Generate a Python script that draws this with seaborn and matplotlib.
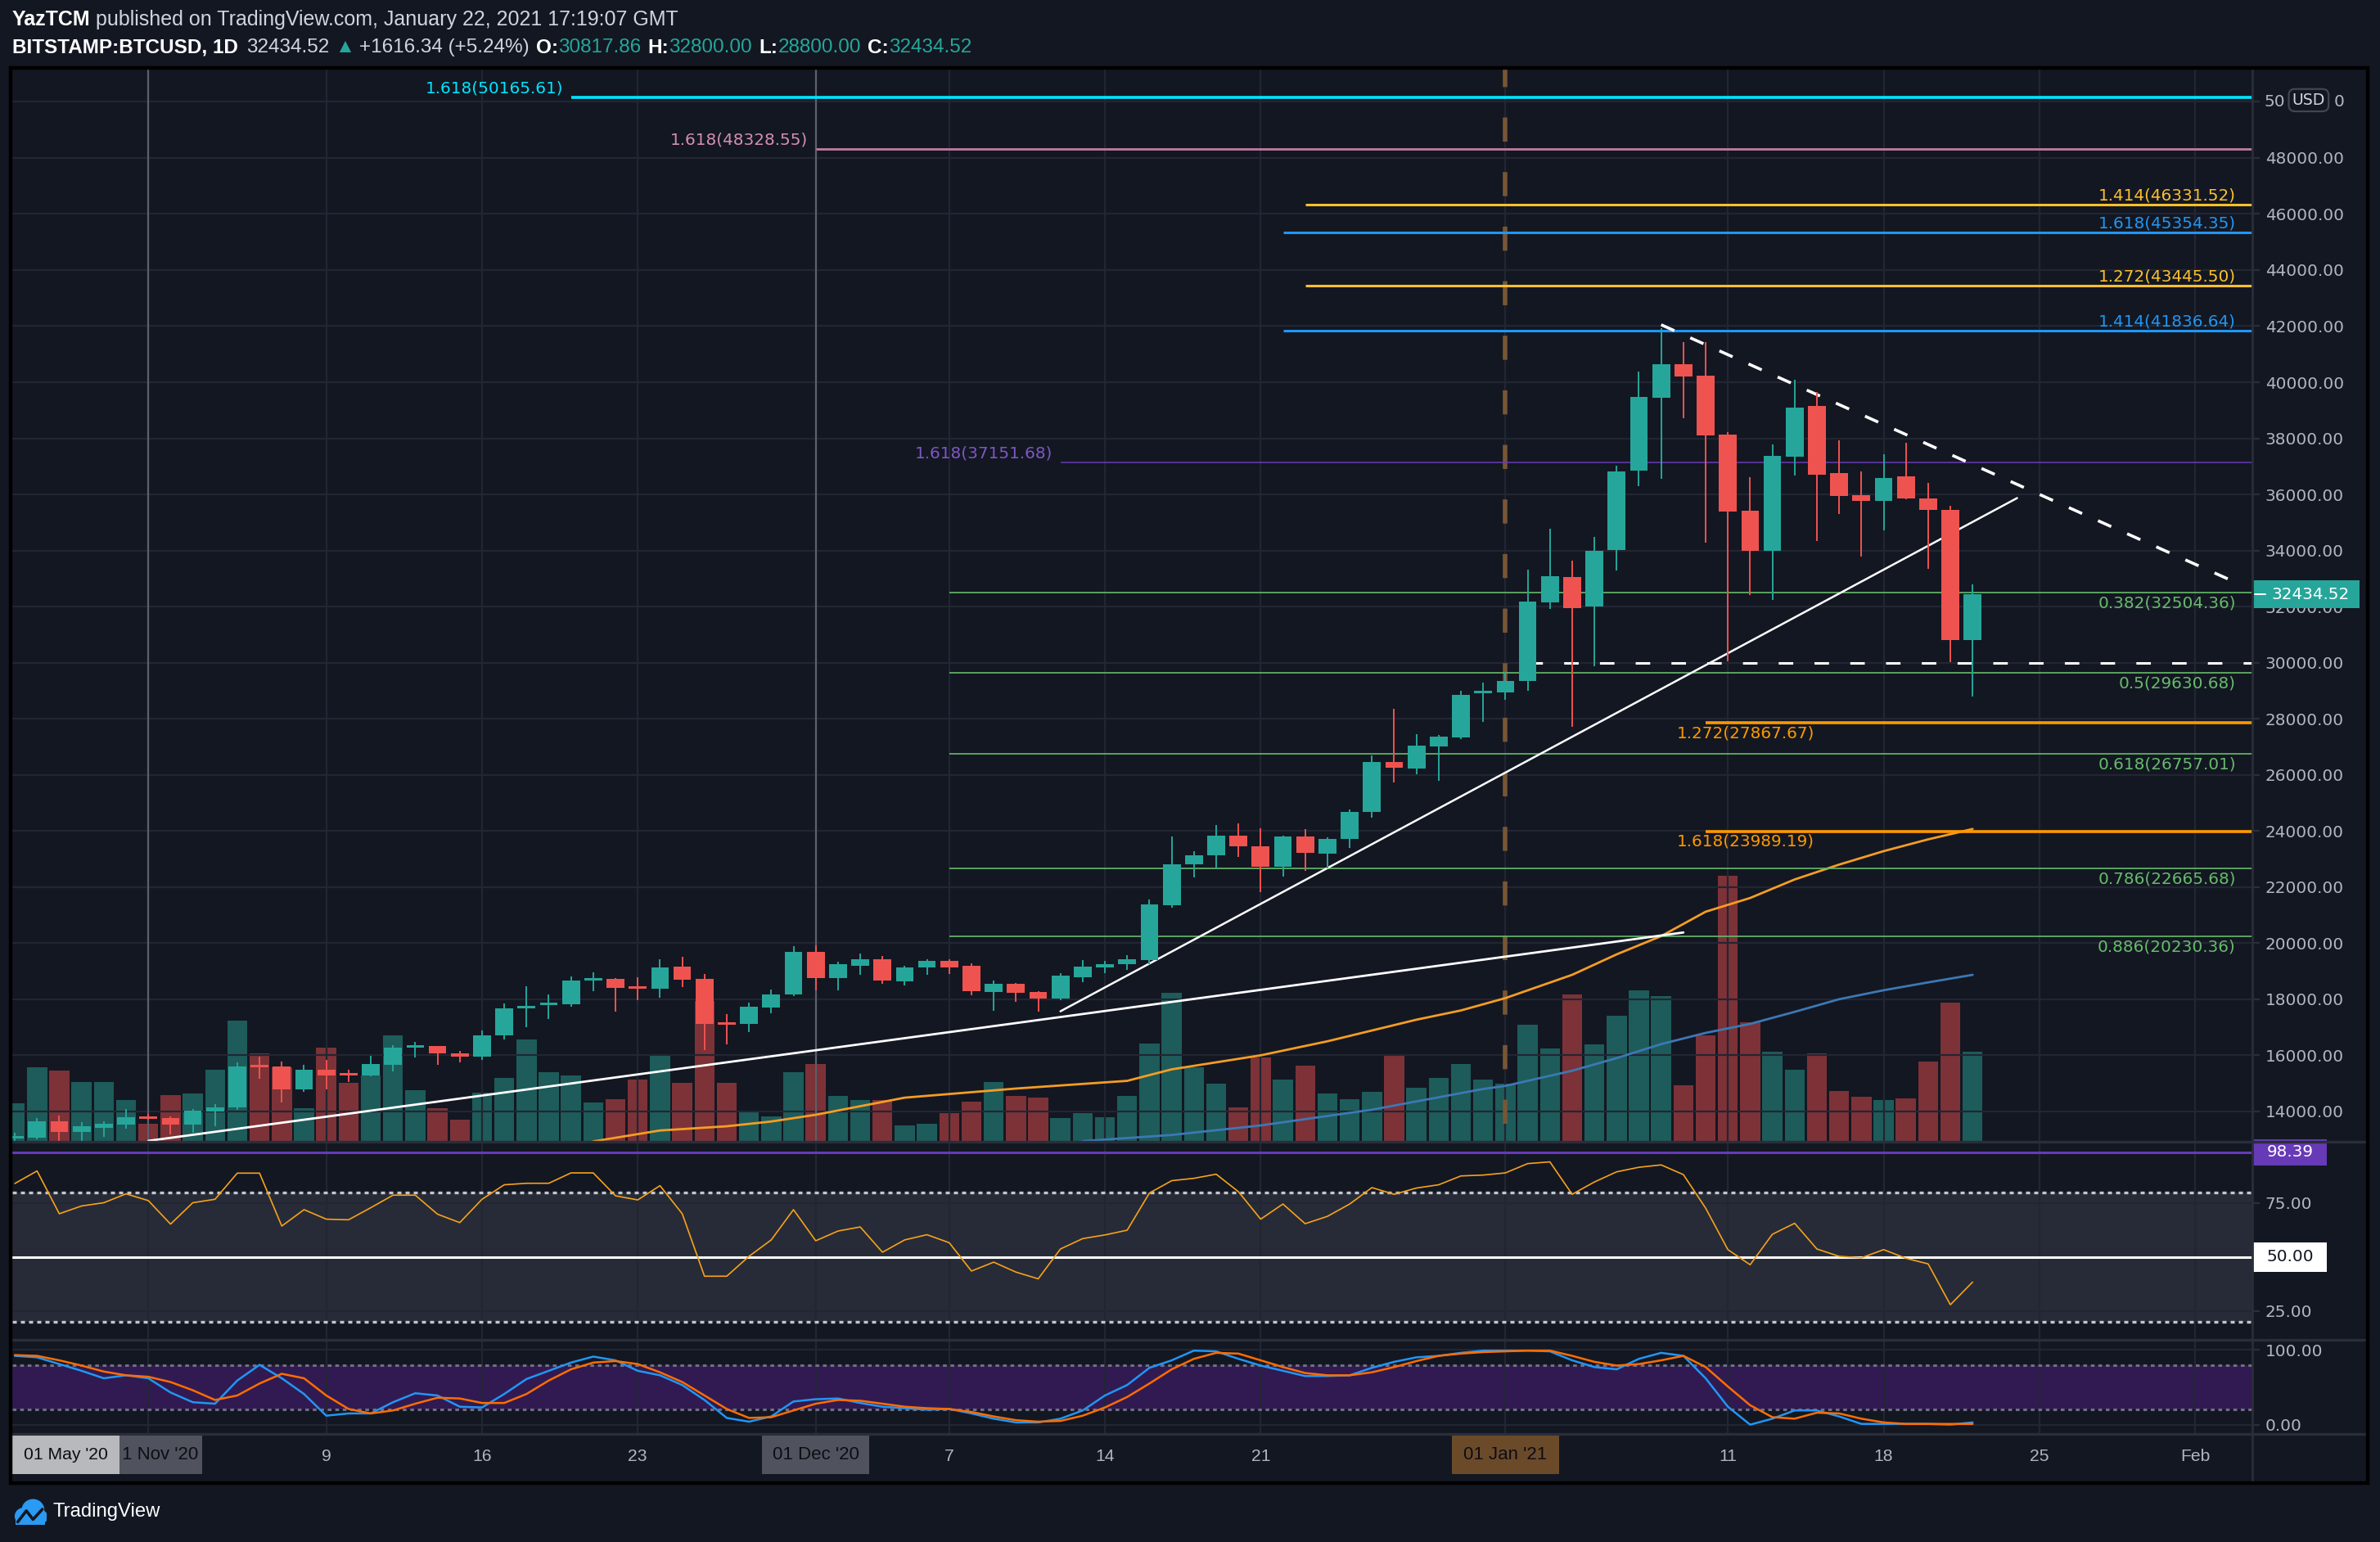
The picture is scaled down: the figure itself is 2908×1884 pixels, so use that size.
import numpy as np
import pandas as pd
import matplotlib
matplotlib.use("Agg")
import matplotlib.pyplot as plt
import matplotlib.transforms as mtransforms
from matplotlib.patches import Rectangle, Circle
from matplotlib.lines import Line2D
import seaborn as sns

# ---------------- data ----------------
dates = pd.date_range("2020-10-26", "2021-01-22", freq="D")

opens = [13030, 13070, 13640, 13260, 13420, 13540,
         13780, 13750, 13540, 14010, 14150, 15600, 15590, 14790, 15480, 15340,
         15280, 15670, 16260, 16330, 16060, 15940, 16700, 17670, 17780, 17810,
         18660, 18730, 18430, 18370, 19170, 18730, 17180, 17120, 17690, 18170,
         19690, 18760, 19190, 19420, 18640, 19130, 19380, 19180, 18270, 18540,
         18250, 18020, 18780, 19140, 19260, 19410, 21340, 22810, 23120, 23830,
         23450, 22710, 23800, 23180, 23710, 24680, 26460, 26220, 27000, 27340, 28900,
         28950, 29350, 32150, 33040, 32010, 34020, 36840, 39460, 40650, 40220,
         38130, 35410, 33980, 37340, 39140, 36760, 35960, 35780, 36630, 35860,
         35460, 30817.86]
highs = [13240, 13760, 13850, 13630, 13660, 14080,
         13900, 13830, 14080, 14260, 15760, 15950, 15780, 15660, 15840, 15480,
         15970, 16360, 16470, 16340, 16150, 16880, 17860, 18470, 18180, 18810,
         18960, 18760, 18780, 19440, 19500, 18910, 17470, 17880, 18340, 19880,
         19920, 19350, 19630, 19550, 19190, 19430, 19430, 19290, 18660, 18590,
         18300, 18930, 19410, 19360, 19570, 21560, 23800, 23290, 24220, 24280,
         24100, 23830, 24080, 23770, 24770, 26700, 28370, 27460, 27420, 29000, 29300,
         29660, 33320, 34780, 33630, 34470, 37030, 40390, 41940, 41420, 41440,
         38210, 36610, 37780, 40090, 39660, 37920, 36820, 37430, 37840, 36420,
         35590, 32800.00]
lows = [12800, 13000, 12900, 12950, 13100, 13390,
        13700, 13170, 13240, 13460, 14050, 15170, 14310, 14700, 14780, 15050,
        15250, 15440, 15930, 15660, 15760, 15850, 16560, 17000, 17300, 17730,
        18290, 17560, 17980, 18040, 18440, 16200, 16400, 16830, 17510, 18100,
        18320, 18320, 18870, 18540, 18480, 18870, 18900, 18140, 17600, 17910,
        17550, 17980, 18600, 18940, 19050, 19260, 21250, 22340, 22670, 23070,
        21830, 22380, 22590, 22670, 23380, 24460, 25730, 26030, 25800, 27280, 27890,
        28670, 29000, 31930, 27700, 29870, 33290, 36280, 36560, 38730, 34280,
        30050, 32410, 32240, 36680, 34330, 35300, 33790, 34730, 35830, 33350,
        30030, 28800.00]
closes = [13070, 13640, 13260, 13460, 13550, 13790,
          13740, 13540, 14020, 14140, 15600, 15580, 14790, 15480, 15290, 15290,
          15680, 16280, 16330, 16060, 15940, 16710, 17680, 17770, 17820, 18660,
          18720, 18410, 18370, 19140, 18710, 17120, 17100, 17730, 18180, 19700,
          18760, 19240, 19420, 18660, 19140, 19380, 19140, 18300, 18560, 18230,
          18020, 18830, 19170, 19260, 19420, 21370, 22810, 23130, 23830, 23440,
          22710, 23800, 23220, 23710, 24680, 26460, 26240, 27030, 27360, 28850, 28960,
          29350, 32170, 33080, 31940, 34000, 36820, 39480, 40650, 40200, 38100,
          35390, 33980, 37370, 39100, 36710, 35950, 35780, 36590, 35860, 35440,
          30818.18, 32434.52]
volumes = [142, 272, 260, 218, 218, 154,
           65, 172, 178, 265, 443, 325, 272, 124, 346, 217,
           243, 391, 190, 124, 82, 181, 235, 376, 256, 244,
           145, 157, 229, 322, 217, 517, 217, 112, 94, 256,
           286, 167, 152, 154, 61, 65, 106, 148, 218, 167,
           163, 88, 106, 91, 167, 361, 545, 274, 212, 127,
           308, 227, 280, 176, 157, 184, 320, 197, 233, 284, 227,
           212, 428, 341, 539, 356, 461, 554, 533, 206, 389,
           974, 437, 329, 263, 323, 185, 164, 152, 158, 293,
           509, 329]

rsi = [84.0, 89.8, 70.0, 73.6, 75.1, 79.2,
       76.1, 65.2, 75.1, 76.7, 88.8, 88.8, 64.3, 71.9, 67.5, 67.2,
       72.8, 78.6, 78.6, 69.8, 65.9, 76.7, 83.4, 84.1, 84.1, 88.9,
       88.9, 78.3, 76.4, 83.0, 70.0, 41.1, 41.1, 50.3, 57.9, 71.9,
       57.5, 62.0, 63.9, 52.2, 57.9, 60.3, 56.6, 43.5, 47.6, 43.0,
       39.9, 53.7, 58.5, 60.2, 62.4, 79.6, 85.3, 86.4, 88.3, 80.2,
       67.5, 74.5, 65.4, 68.8, 74.5, 82.1, 79.0, 81.9, 83.4, 87.5, 87.9,
       88.9, 93.2, 94.0, 79.0, 84.7, 89.4, 91.5, 92.6, 88.1, 72.6,
       53.4, 46.4, 60.5, 65.6, 53.7, 50.3, 49.6, 53.4, 49.4, 46.8,
       27.9, 38.4]
stoch_k = [92, 90, 81, 72, 62, 66,
           62, 43, 30, 28, 59, 80, 62, 41, 12, 15,
           15, 30, 42, 39, 24, 23, 41, 61, 72, 83,
           91, 86, 72, 66, 53, 33, 9, 4, 11, 31,
           34, 35, 29, 24, 22, 20, 21, 15, 8, 3,
           3, 8, 19, 39, 53, 76, 86, 99, 98, 88,
           79, 72, 65, 65, 66, 76, 84, 90, 92, 96, 99,
           99, 99, 98, 86, 77, 74, 88, 96, 92, 62,
           24, 0, 8, 19, 19, 11, 1, 1, 1, 1,
           0, 3]
stoch_d = [93, 92, 86, 79, 71, 66,
           64, 57, 46, 33, 39, 55, 68, 62, 39, 21,
           15, 19, 28, 36, 35, 29, 29, 41, 59, 74,
           83, 85, 81, 70, 57, 39, 21, 9, 10, 19,
           28, 33, 32, 28, 24, 22, 21, 17, 11, 6,
           4, 5, 12, 23, 37, 55, 74, 88, 96, 95,
           86, 77, 69, 66, 66, 70, 77, 85, 92, 95, 97,
           98, 99, 99, 92, 84, 79, 81, 86, 92, 77,
           51, 26, 10, 8, 16, 15, 8, 3, 1, 1,
           1, 1]

ma_orange_dates = ["2020-11-21", "2020-11-24", "2020-11-27", "2020-11-29", "2020-12-01",
                   "2020-12-05", "2020-12-10", "2020-12-15", "2020-12-17", "2020-12-21",
                   "2020-12-24", "2020-12-28", "2020-12-30", "2021-01-01", "2021-01-04",
                   "2021-01-06", "2021-01-08", "2021-01-10", "2021-01-12", "2021-01-14",
                   "2021-01-16", "2021-01-18", "2021-01-20", "2021-01-22"]
ma_orange = [12930, 13320, 13470, 13640, 13880, 14490, 14815, 15090, 15500, 16000,
             16500, 17270, 17600, 18040, 18870, 19600, 20250, 21120, 21610, 22270,
             22800, 23280, 23700, 24070]
ma_blue_dates = ["2020-12-13", "2020-12-17", "2020-12-21", "2020-12-26", "2020-12-31",
                 "2021-01-01", "2021-01-04", "2021-01-06", "2021-01-08", "2021-01-10",
                 "2021-01-12", "2021-01-14", "2021-01-16", "2021-01-18", "2021-01-20",
                 "2021-01-22"]
ma_blue = [12940, 13160, 13500, 14060, 14800, 14910, 15450, 15900, 16400, 16800,
           17120, 17550, 18000, 18320, 18600, 18870]

fib_ratios = ["1.618", "1.618", "1.414", "1.618", "1.272", "1.414", "1.618",
              "0.382", "0.5", "1.272", "0.618", "1.618", "0.786", "0.886"]
fib_levels = [50165.61, 48328.55, 46331.52, 45354.35, 43445.50, 41836.64, 37151.68,
              32504.36, 29630.68, 27867.67, 26757.01, 23989.19, 22665.68, 20230.36]
fib_starts = ["2020-11-20", "2020-12-01", "2020-12-23", "2020-12-22", "2020-12-23",
              "2020-12-22", "2020-12-12", "2020-12-07", "2020-12-07", "2021-01-10",
              "2020-12-07", "2021-01-10", "2020-12-07", "2020-12-07"]

# trend lines (date, price)
support_long = (["2020-11-01", "2021-01-09"], [12950, 20380])
support_steep = (["2020-12-12", "2021-01-24"], [17570, 35870])
resistance = (["2021-01-08", "2021-02-03"], [42050, 32800])
level_30k = (["2021-01-02", "2021-02-05"], [30000, 30000])

xtick_dates = ["2020-11-01", "2020-11-09", "2020-11-16", "2020-11-23", "2020-12-01",
               "2020-12-07", "2020-12-14", "2020-12-21", "2021-01-01", "2021-01-11",
               "2021-01-18", "2021-01-25", "2021-02-01"]
# month / year ticks are covered by the date tags below
xtick_labels = ["", "9", "16", "23", "", "7", "14", "21", "", "11", "18", "25", "Feb"]

price_ticks = list(range(14000, 50001, 2000))

# ---------------- styling ----------------
BG = "#131722"
GRID = "#222633"
SEP = "#2a2e39"
UP, DOWN = "#26a69a", "#ef5350"
VOL_UP, VOL_DOWN = "#1d5c5a", "#7d3237"
AXTXT = "#b2b5be"

fib_colors = ["#00e5ff", "#c27ba0", "#fbc02d", "#2196f3", "#fbc02d", "#2196f3", "#673ab7",
              "#66bb6a", "#66bb6a", "#ff9800", "#66bb6a", "#ff9800", "#66bb6a", "#66bb6a"]
fib_text_colors = ["#00e5ff", "#d38fae", "#fbc02d", "#2196f3", "#fbc02d", "#2196f3", "#7e57c2",
                   "#66bb6a", "#66bb6a", "#ff9800", "#66bb6a", "#ff9800", "#66bb6a", "#66bb6a"]
fib_widths = [1.3, 1.0, 1.1, 1.1, 1.1, 1.1, 0.55, 0.6, 0.6, 1.3, 0.6, 1.3, 0.6, 0.6]
fib_place = ["left", "left", "above", "above", "above", "above", "left",
             "below", "below", "start", "below", "start", "below", "below"]

sns.set_style("dark", {"axes.facecolor": BG, "figure.facecolor": BG})
plt.rcParams["font.family"] = ["DejaVu Sans"]

BASE = pd.Timestamp("2020-11-01")


def dnum(s):
    return np.asarray((pd.to_datetime(s) - BASE) / pd.Timedelta(days=1), dtype=float)


W, H = 1568.0, 1016.0


def rect(x0, y0, x1, y1):
    return [x0 / W, 1 - y1 / H, (x1 - x0) / W, (y1 - y0) / H]


X0, X1, XR = 8.0, 1483.7, 1560.0
XLIM = (-6.12, 94.56)
PANEL_W = X1 - X0

fig = plt.figure(figsize=(14.54, 9.42), dpi=200, facecolor=BG)

ax_vol = fig.add_axes(rect(X0, 46.0, X1, 752.3))
ax = fig.add_axes(rect(X0, 46.0, X1, 752.3), sharex=ax_vol)
ax_rsi = fig.add_axes(rect(X0, 752.3, X1, 882.6), sharex=ax_vol)
ax_st = fig.add_axes(rect(X0, 882.6, X1, 944.8), sharex=ax_vol)

for a in (ax_vol, ax, ax_rsi, ax_st):
    for sp in a.spines.values():
        sp.set_visible(False)
ax_vol.set_facecolor(BG)
ax.set_facecolor("none")
ax_rsi.set_facecolor(BG)
ax_st.set_facecolor(BG)

x = dnum(dates)
o, h, l, c = (np.asarray(v, dtype=float) for v in (opens, highs, lows, closes))
up = c >= o

# volume
ax_vol.bar(x, volumes, width=0.9, color=np.where(up, VOL_UP, VOL_DOWN), linewidth=0)
ax_vol.set_ylim(0, 3928)
ax_vol.set_yticks([])
ax_vol.tick_params(bottom=False, labelbottom=False, left=False, labelleft=False)

# price grid + axis (the 50000 label is split around the USD badge further down)
ax.set_xticks(dnum(xtick_dates))
ax.set_yticks(price_ticks)
ax.set_yticklabels([f"{v:.2f}" if v < 50000 else "" for v in price_ticks])
ax.yaxis.tick_right()
ax.tick_params(axis="x", bottom=False, labelbottom=False)
ax.tick_params(axis="y", length=3.2, width=0.8, color=SEP, pad=2.6, labelsize=7.2, labelcolor=AXTXT)
ax.grid(True, color=GRID, lw=0.8)
ax.set_axisbelow(True)

# vertical markers
ax.axvline(dnum("2020-11-01"), color="#5d606b", lw=0.8, zorder=1)
ax.axvline(dnum("2020-12-01"), color="#5d606b", lw=0.8, zorder=1)
ax.vlines(dnum("2021-01-01"), 13567, 52000, color="#785634", lw=2.0, linestyles=(0, (5.3, 6.7)), zorder=1)

# moving averages
sns.lineplot(x=dnum(ma_orange_dates), y=ma_orange, ax=ax, color="#f59d24", lw=1.0, zorder=2)
sns.lineplot(x=dnum(ma_blue_dates), y=ma_blue, ax=ax, color="#3c78b5", lw=1.0, zorder=2)

# fib levels
for ratio, lev, st, col, tcol, lw, place in zip(fib_ratios, fib_levels, fib_starts, fib_colors,
                                                fib_text_colors, fib_widths, fib_place):
    x_start = dnum(st)
    ax.hlines(lev, x_start, 100, color=col, lw=lw, zorder=2)
    label = f"{ratio}({lev:.2f})"
    if place == "left":
        xy, ha, va, off = (x_start - 0.35, lev), "right", "bottom", 0.3
    elif place == "above":
        xy, ha, va, off = (93.83, lev), "right", "bottom", 0.5
    elif place == "below":
        xy, ha, va, off = (93.83, lev), "right", "top", -1.2
    else:
        xy, ha, va, off = (68.7, lev), "left", "top", -1.2
    ax.annotate(label, xy=xy, xytext=(0, off), textcoords="offset points", ha=ha, va=va,
                color=tcol, fontsize=7.2, zorder=6)

# trend lines
ax.plot(dnum(support_long[0]), support_long[1], color="white", lw=1.0, zorder=5)
ax.plot(dnum(support_steep[0]), support_steep[1], color="white", lw=0.9, zorder=5)
ax.plot(dnum(resistance[0]), resistance[1], color="white", lw=1.3, dashes=(4.9, 5.9), zorder=5)
ax.plot(dnum(level_30k[0]), level_30k[1], color="white", lw=1.1, dashes=(5.8, 8.5), zorder=5)

# candles
cols = np.where(up, UP, DOWN)
ax.vlines(x, l, h, colors=cols, lw=0.7, zorder=7)
ax.bar(x, np.maximum(np.abs(c - o), 90), bottom=np.minimum(o, c), width=0.8, color=cols,
       linewidth=0, zorder=8)

ax.set_ylim(12917, 51140)
ax.set_xlim(*XLIM)
ax.set_xlabel("")
ax.set_ylabel("")


def axis_tag(a, value, text, fc, tc, x1_disp, half_h_disp, px_per_unit, marker=False):
    """Coloured value tag on the right scale of axes `a`."""
    tr = mtransforms.blended_transform_factory(a.transAxes, a.transData)
    xa0 = (X1 + 0.5 - X0) / PANEL_W
    xa1 = (x1_disp - X0) / PANEL_W
    hh = half_h_disp / px_per_unit
    a.add_patch(Rectangle((xa0, value - hh), xa1 - xa0, 2 * hh, transform=tr, fc=fc, ec="none",
                          clip_on=False, zorder=20))
    a.text((xa0 + xa1) / 2 + (0.002 if marker else 0), value, text, transform=tr, ha="center",
           va="center", color=tc, fontsize=7.2, clip_on=False, zorder=21)
    if marker:
        a.plot([xa0 + 0.0008, xa0 + 0.0055], [value, value], transform=tr, color="white", lw=0.7,
               clip_on=False, zorder=21)


# last price tag (px_per_unit: display pixels per price unit)
axis_tag(ax, closes[-1], f"{closes[-1]:.2f}", UP, "white", 1554.5, 9.2, 36.94 / 2000, marker=True)

# 50000 label: only "50" and the last "0" show either side of the USD badge
ptr = mtransforms.blended_transform_factory(fig.transFigure, ax.transData)
fig.text(1491.5 / W, 50000, "50", transform=ptr, ha="left", va="center", color=AXTXT, fontsize=7.2)
fig.text(1537.5 / W, 50000, "0", transform=ptr, ha="left", va="center", color=AXTXT, fontsize=7.2)
fig.text(1521 / W, 1 - 66 / H, "USD", ha="center", va="center", color="#d1d4dc", fontsize=6.8,
         bbox=dict(boxstyle="round,pad=0.22,rounding_size=0.4", fc=BG, ec="#434651", lw=0.8), zorder=10)

# ---------------- RSI ----------------
ax_rsi.axhspan(20, 80, color="#272b37", zorder=0.2, lw=0)
ax_rsi.set_yticks([25, 50, 75])
ax_rsi.set_yticklabels(["25.00", "", "75.00"])
ax_rsi.yaxis.tick_right()
ax_rsi.tick_params(axis="x", bottom=False, labelbottom=False)
ax_rsi.tick_params(axis="y", length=3.2, width=0.8, color=SEP, pad=2.6, labelsize=7.2, labelcolor=AXTXT)
ax_rsi.grid(True, color=GRID, lw=0.8)
ax_rsi.set_axisbelow(True)
ax_rsi.axhline(80, color="#c3c6cc", lw=1.2, dashes=(1.5, 1.5), zorder=2)
ax_rsi.axhline(20, color="#c3c6cc", lw=1.2, dashes=(1.5, 1.5), zorder=2)
ax_rsi.axhline(50, color="white", lw=1.1, zorder=2)
ax_rsi.axhline(98.39, color="#673ab7", lw=1.1, zorder=2)
sns.lineplot(x=x, y=rsi, ax=ax_rsi, color="#f7a21b", lw=0.6, zorder=3)
ax_rsi.set_ylim(11.8, 103.3)
ax_rsi.set_xlabel("")
ax_rsi.set_ylabel("")
axis_tag(ax_rsi, 50, "50.00", "white", BG, 1533, 9.8, 1.424)
axis_tag(ax_rsi, 98.39, "98.39", "#673ab7", "white", 1533, 8.6, 1.424)

# ---------------- Stoch RSI ----------------
ax_st.axhspan(20, 80, color="#311a52", zorder=0.2, lw=0)
ax_st.set_yticks([0, 100])
ax_st.set_yticklabels(["0.00", "100.00"])
ax_st.yaxis.tick_right()
ax_st.tick_params(axis="y", length=3.2, width=0.8, color=SEP, pad=2.6, labelsize=7.2, labelcolor=AXTXT)
ax_st.grid(True, color=GRID, lw=0.8)
ax_st.set_axisbelow(True)
ax_st.axhline(80, color="#6f6f82", lw=1.1, dashes=(1.5, 1.5), zorder=2)
ax_st.axhline(20, color="#6f6f82", lw=1.1, dashes=(1.5, 1.5), zorder=2)
sns.lineplot(x=x, y=stoch_k, ax=ax_st, color="#2196f3", lw=0.9, zorder=3)
sns.lineplot(x=x, y=stoch_d, ax=ax_st, color="#ff6d00", lw=0.9, zorder=3)
ax_st.set_ylim(-12.4, 113.8)
ax_st.set_xlim(*XLIM)
ax_st.set_xlabel("")
ax_st.set_ylabel("")
ax_st.set_xticks(dnum(xtick_dates))
ax_st.set_xticklabels(xtick_labels)
ax_st.tick_params(axis="x", length=2.2, width=0.8, color="#363a45", pad=4.3, labelsize=7.6,
                  labelcolor=AXTXT, labelfontfamily="Liberation Sans")

# date tags on the time axis
btr = mtransforms.blended_transform_factory(ax_st.transData, fig.transFigure)
tag_y0, tag_y1 = 1 - 971 / H, 1 - 946 / H
tag_mid = (tag_y0 + tag_y1) / 2
tag_w = 4.84
tags = [("2020-12-01", "01 Dec '20", "#50535e"), ("2021-01-01", "01 Jan '21", "#6b4a2a")]
for d, txt, fc in tags:
    xd = dnum(d)
    fig.add_artist(Rectangle((xd - tag_w / 2, tag_y0), tag_w, tag_y1 - tag_y0, transform=btr,
                             fc=fc, ec="none", zorder=5))
    fig.text(xd, tag_mid, txt, transform=btr, ha="center", va="center",
             color="#0c0e14", fontsize=8, family="Liberation Sans", zorder=6)
# 01 Nov tag partly hidden under the 01 May tag
nov = dnum("2020-11-01")
fig.add_artist(Rectangle((nov - tag_w / 2, tag_y0), tag_w, tag_y1 - tag_y0, transform=btr,
                         fc="#50535e", ec="none", zorder=5))
fig.text(XLIM[0] + tag_w + 0.08, tag_mid, "1 Nov '20", transform=btr, ha="left", va="center",
         color="#0c0e14", fontsize=8, family="Liberation Sans", zorder=6)
fig.add_artist(Rectangle((XLIM[0], tag_y0), tag_w, tag_y1 - tag_y0, transform=btr,
                         fc="#b8b9bd", ec="none", zorder=7))
fig.text(XLIM[0] + tag_w / 2, tag_mid, "01 May '20", transform=btr, ha="center",
         va="center", color="#0c0e14", fontsize=7.6, family="Liberation Sans", zorder=8)


# ---------------- frame and separators ----------------
def fline(x0, y0, x1, y1, color=SEP, lw=1.0):
    fig.add_artist(Line2D([x0 / W, x1 / W], [1 - y0 / H, 1 - y1 / H], color=color, lw=lw, zorder=4))


fline(X0, 752.3, XR, 752.3, lw=1.2)
fline(X0, 882.6, XR, 882.6, lw=1.2)
fline(X0, 944.8, XR, 944.8, lw=1.2)
fline(X1, 46, X1, 976, lw=1.0)
fig.add_artist(Rectangle((7 / W, 1 - 977 / H), (XR - 7) / W, (977 - 45) / H, transform=fig.transFigure,
                         fill=False, ec="black", lw=1.6, zorder=9))

# ---------------- header ----------------
renderer = fig.canvas.get_renderer()


def put_runs(runs, x_disp, y_disp, size):
    xf = x_disp / W
    for s, color, weight, gap in runs:
        t = fig.text(xf, 1 - y_disp / H, s, color=color, fontsize=size, fontweight=weight,
                     family="Liberation Sans", ha="left", va="center")
        xf += t.get_window_extent(renderer).width / fig.bbox.width + gap / W


TXT = "#d1d4dc"
put_runs([("YazTCM", "white", "bold", 3.7),
          ("published on TradingView.com, January 22, 2021 17:19:07 GMT", TXT, "normal", 0)],
         8, 13, 9.0)
put_runs([("BITSTAMP:BTCUSD, 1D", "white", "bold", 5.5),
          ("32434.52", TXT, "normal", 3.5),
          ("\u25b2", UP, "normal", 3.5),
          ("+1616.34 (+5.24%)", TXT, "normal", 4.5),
          ("O:", "white", "bold", 0), ("30817.86", UP, "normal", 4.5),
          ("H:", "white", "bold", 0), ("32800.00", UP, "normal", 4.5),
          ("L:", "white", "bold", 0), ("28800.00", UP, "normal", 4.5),
          ("C:", "white", "bold", 0), ("32434.52", UP, "normal", 0)],
         8, 31.5, 8.75)

# ---------------- logo ----------------
lax = fig.add_axes(rect(9, 986, 31, 1007))
lax.set_xlim(0, 1)
lax.set_ylim(0, 1)
lax.axis("off")
for cx, cy, r in [(0.3, 0.38, 0.27), (0.58, 0.58, 0.34), (0.8, 0.36, 0.22)]:
    lax.add_patch(Circle((cx, cy), r, fc="#2a9af3", ec="none"))
lax.add_patch(Rectangle((0.05, 0.1), 0.9, 0.3, fc="#2a9af3", ec="none"))
lax.plot([0.12, 0.38, 0.58, 0.86], [0.2, 0.55, 0.28, 0.6], color=BG, lw=1.3)
fig.text(35 / W, 1 - 996 / H, "TradingView", color="white", fontsize=8.6,
         family="Liberation Sans", ha="left", va="center")

fig.savefig("out.png", dpi=200, facecolor=BG)
